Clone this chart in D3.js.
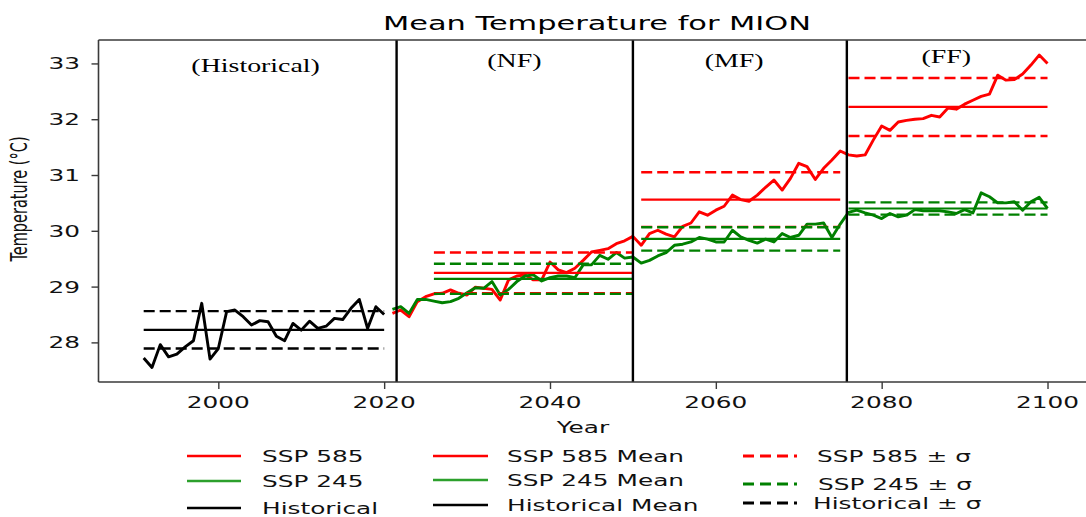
<!DOCTYPE html>
<html>
<head>
<meta charset="utf-8">
<script src="https://cdn.jsdelivr.net/npm/d3@7"></script>
<style>
  html, body { margin: 0; padding: 0; background: #ffffff; }
  svg { display: block; }
</style>
</head>
<body>
<svg id="chart" width="1086" height="517"></svg>
<script>
// ---- data -------------------------------------------------------------
const histStartYear = 1991;
const histValues = [27.72, 27.55, 27.96, 27.74, 27.79, 27.92, 28.03, 28.70, 27.70, 27.89,
                    28.55, 28.58, 28.46, 28.31, 28.39, 28.37, 28.11, 28.03, 28.34, 28.22,
                    28.38, 28.25, 28.29, 28.43, 28.41, 28.61, 28.77, 28.25, 28.64, 28.50];

const sspStartYear = 2021;
const ssp585Values = [28.52, 28.58, 28.46, 28.73, 28.82, 28.87, 28.88, 28.94, 28.88, 28.85,
                      28.99, 28.97, 28.95, 28.76, 29.12, 29.19, 29.21, 29.12, 29.12, 29.44,
                      29.30, 29.25, 29.33, 29.47, 29.62, 29.65, 29.68, 29.77, 29.82, 29.90,
                      29.74, 29.95, 30.01, 29.94, 29.89, 30.08, 30.14, 30.34, 30.28, 30.37,
                      30.44, 30.64, 30.56, 30.53, 30.64, 30.78, 30.91, 30.73, 30.94, 31.21,
                      31.15, 30.92, 31.12, 31.27, 31.43, 31.36, 31.34, 31.36, 31.63, 31.88,
                      31.80, 31.95, 31.98, 32.00, 32.01, 32.07, 32.04, 32.20, 32.18, 32.27,
                      32.34, 32.41, 32.45, 32.79, 32.70, 32.71, 32.81, 32.97, 33.15, 33.00];
const ssp245Values = [28.59, 28.64, 28.52, 28.77, 28.77, 28.74, 28.71, 28.73, 28.79, 28.89,
                      28.98, 28.97, 29.09, 28.85, 28.95, 29.09, 29.19, 29.21, 29.10, 29.16,
                      29.19, 29.19, 29.16, 29.39, 29.39, 29.56, 29.49, 29.61, 29.51, 29.53,
                      29.42, 29.47, 29.55, 29.61, 29.74, 29.76, 29.80, 29.88, 29.85, 29.80,
                      29.80, 30.01, 29.89, 29.83, 29.78, 29.85, 29.80, 29.95, 29.88, 29.92,
                      30.12, 30.12, 30.14, 29.88, 30.12, 30.33, 30.37, 30.32, 30.28, 30.22,
                      30.31, 30.25, 30.28, 30.38, 30.36, 30.36, 30.36, 30.34, 30.31, 30.38,
                      30.32, 30.68, 30.61, 30.50, 30.50, 30.52, 30.37, 30.52, 30.60, 30.40];

// period statistics
const histPeriod = [1991, 2020];
const histMean = 28.225;
const histSd = 0.335;

const futureStart = [2026, 2051, 2076];
const futureEnd   = [2050, 2075, 2100];
const ssp585Mean  = [29.245, 30.56, 32.22];
const ssp585Sd    = [0.365, 0.49, 0.52];
const ssp245Mean  = [29.14, 29.855, 30.40];
const ssp245Sd    = [0.27, 0.21, 0.11];

// period names and the years separating them
const periodLabels = ["(Historical)", "(NF)", "(MF)", "(FF)"];
const periodLabelYears = [2004.5, 2035.7, 2062.2, 2087.8];
const periodBreaks = [2021.5, 2050, 2075.8];

const xTickValues = [2000, 2020, 2040, 2060, 2080, 2100];
const yTickValues = [28, 29, 30, 31, 32, 33];

const legendColumns = [
  ["SSP 585", "SSP 245", "Historical"],
  ["SSP 585 Mean", "SSP 245 Mean", "Historical Mean"],
  ["SSP 585 \u00b1 \u03c3", "SSP 245 \u00b1 \u03c3", "Historical \u00b1 \u03c3"]
];

// ---- styling ----------------------------------------------------------
const RED = "#ff0000", GREEN = "#008000", BLACK = "#000000", LIGHT_GREEN = "#2ca02c";
const SANS = "'DejaVu Sans', sans-serif";
const SERIF = "'Liberation Serif', 'Times New Roman', serif";
const STRETCH = 1.55;   // text is drawn wide

const svg = d3.select("#chart");
svg.append("rect").attr("width", 1086).attr("height", 517).attr("fill", "#fff");

const plot = { left: 98.5, right: 1092.7, top: 40, bottom: 382 };
const x = d3.scaleLinear().domain([1985.55, 2105.45]).range([plot.left, plot.right]);
const y = d3.scaleLinear().domain([27.29, 33.42]).range([plot.bottom, plot.top]);

function wideText(parent, str, px, py, opt) {
  const t = parent.append("text")
    .attr("transform", `translate(${px},${py}) scale(${opt.k || STRETCH},1)`)
    .attr("text-anchor", opt.anchor || "start")
    .style("font-family", opt.family || SANS)
    .style("font-size", (opt.size || 16) + "px")
    .attr("fill", opt.fill || "#111")
    .text(str);
  return t;
}

// ---- series -----------------------------------------------------------
const line = d3.line().x(d => x(d[0])).y(d => y(d[1]));
const histPts = histValues.map((v, i) => [histStartYear + i, v]);
const ssp585Pts = ssp585Values.map((v, i) => [sspStartYear + i, v]);
const ssp245Pts = ssp245Values.map((v, i) => [sspStartYear + i, v]);

const g = svg.append("g");
[[histPts, BLACK], [ssp585Pts, RED], [ssp245Pts, GREEN]].forEach(([pts, color]) => {
  g.append("path").datum(pts).attr("d", line)
    .attr("fill", "none").attr("stroke", color).attr("stroke-width", 2.9)
    .attr("stroke-linejoin", "round");
});

// ---- mean and ±σ lines ------------------------------------------------
function hline(x0, x1, v, color, dashed) {
  g.append("line")
    .attr("x1", x(x0)).attr("x2", x(x1)).attr("y1", y(v)).attr("y2", y(v))
    .attr("stroke", color).attr("stroke-width", dashed ? 2.4 : 2.2)
    .attr("stroke-dasharray", dashed ? "11,5" : null);
}
hline(histPeriod[0], histPeriod[1], histMean, BLACK, false);
hline(histPeriod[0], histPeriod[1], histMean + histSd, BLACK, true);
hline(histPeriod[0], histPeriod[1], histMean - histSd, BLACK, true);
futureStart.forEach((s, i) => {
  const e = futureEnd[i];
  hline(s, e, ssp585Mean[i], RED, false);
  hline(s, e, ssp585Mean[i] + ssp585Sd[i], RED, true);
  hline(s, e, ssp585Mean[i] - ssp585Sd[i], RED, true);
  hline(s, e, ssp245Mean[i], GREEN, false);
  hline(s, e, ssp245Mean[i] + ssp245Sd[i], GREEN, true);
  hline(s, e, ssp245Mean[i] - ssp245Sd[i], GREEN, true);
});

// ---- period separators and names --------------------------------------
periodBreaks.forEach(b => {
  g.append("line").attr("x1", x(b)).attr("x2", x(b))
    .attr("y1", plot.top).attr("y2", plot.bottom)
    .attr("stroke", BLACK).attr("stroke-width", 2.4);
});
periodLabels.forEach((lab, i) => {
  wideText(svg, lab, x(periodLabelYears[i]), i === 0 ? 72 : (i === 3 ? 63 : 67),
           { anchor: "middle", family: SERIF, size: 18, fill: "#000" });
});

// ---- axes frame -------------------------------------------------------
const SPINE = "#3a3a3a";
svg.append("line").attr("x1", plot.left).attr("x2", plot.left).attr("y1", plot.top).attr("y2", plot.bottom)
  .attr("stroke", SPINE).attr("stroke-width", 1.6);
svg.append("line").attr("x1", plot.left).attr("x2", plot.right).attr("y1", plot.bottom).attr("y2", plot.bottom)
  .attr("stroke", SPINE).attr("stroke-width", 1.6);
svg.append("line").attr("x1", plot.left).attr("x2", plot.right).attr("y1", plot.top).attr("y2", plot.top)
  .attr("stroke", SPINE).attr("stroke-width", 1.6);

// y axis ticks and labels
const yAxis = d3.axisLeft(y).tickValues(yTickValues).tickSize(7).tickFormat("");
const yg = svg.append("g").attr("transform", `translate(${plot.left},0)`).call(yAxis);
yg.select(".domain").remove();
yg.selectAll(".tick line").attr("stroke", SPINE).attr("stroke-width", 1.4);
yTickValues.forEach(v => wideText(svg, String(v), 80, y(v) + 6, { anchor: "end", size: 16 }));

// x axis ticks and labels
const xAxis = d3.axisBottom(x).tickValues(xTickValues).tickSize(7).tickFormat("");
const xg = svg.append("g").attr("transform", `translate(0,${plot.bottom})`).call(xAxis);
xg.select(".domain").remove();
xg.selectAll(".tick line").attr("stroke", SPINE).attr("stroke-width", 1.4);
xTickValues.forEach(v => wideText(svg, String(v), x(v), 408, { anchor: "middle", size: 16 }));

// axis titles
wideText(svg, "Year", 583, 433, { anchor: "middle", size: 16 });
svg.append("text")
  .attr("transform", `translate(27,199) scale(${STRETCH},1) rotate(-90)`)
  .attr("text-anchor", "middle")
  .style("font-family", SANS).style("font-size", "14.5px").attr("fill", "#111")
  .text("Temperature (\u00b0C)");

// chart title
wideText(svg, "Mean Temperature for MION", 597, 30, { anchor: "middle", size: 20, k: 1.52, fill: "#000" });

// ---- legend -----------------------------------------------------------
const legendLineX = [[187, 241], [433, 488], [743, 797]];
const legendTextX = [[262, 262, 262], [507, 507, 507], [817, 818, 813]];
const legendRowY = [[456, 481, 508], [456, 480, 505], [456, 484, 503]];
const legendColors = [[RED, LIGHT_GREEN, BLACK], [RED, LIGHT_GREEN, BLACK], [RED, GREEN, BLACK]];
const lg = svg.append("g");
legendColumns.forEach((col, c) => {
  col.forEach((lab, r) => {
    const ly = legendRowY[c][r];
    lg.append("line")
      .attr("x1", legendLineX[c][0]).attr("x2", legendLineX[c][1])
      .attr("y1", ly).attr("y2", ly)
      .attr("stroke", legendColors[c][r]).attr("stroke-width", c === 2 ? 3 : 2.6)
      .attr("stroke-dasharray", c === 2 ? "11,6" : null);
    wideText(lg, lab, legendTextX[c][r], ly + 6, { size: 16, fill: "#111" });
  });
});
</script>
</body>
</html>
